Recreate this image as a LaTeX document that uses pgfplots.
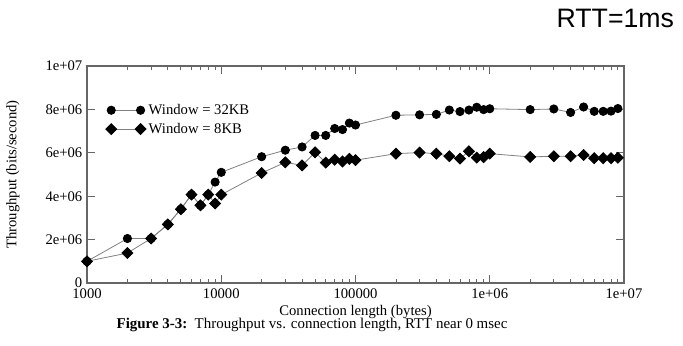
\documentclass[border=0pt]{standalone}
\usepackage{pgfplots}
\pgfplotsset{compat=1.18}
\usepackage{fontspec}
\setmainfont{Liberation Serif}
\newfontfamily\arialfont{Liberation Sans}
\pgfplotstableread{
x y
1000 1.0e6
2000 2.05e6
3000 2.05e6
4000 2.7e6
5000 3.4e6
6000 4.07e6
7000 3.58e6
8000 4.07e6
9000 4.65e6
10000 5.1e6
20000 5.82e6
30000 6.12e6
40000 6.27e6
50000 6.8e6
60000 6.8e6
70000 7.12e6
80000 7.07e6
90000 7.37e6
100000 7.28e6
200000 7.73e6
300000 7.75e6
400000 7.77e6
500000 7.97e6
600000 7.9e6
700000 7.97e6
800000 8.1e6
900000 7.99e6
1000000 8.03e6
2000000 7.99e6
3000000 8.02e6
4000000 7.86e6
5000000 8.11e6
6000000 7.91e6
7000000 7.91e6
8000000 7.92e6
9000000 8.04e6
}\wsmall
\pgfplotstableread{
x y
1000 1.0e6
2000 1.38e6
3000 2.05e6
4000 2.7e6
5000 3.4e6
6000 4.07e6
7000 3.58e6
8000 4.07e6
9000 3.66e6
10000 4.07e6
20000 5.07e6
30000 5.56e6
40000 5.42e6
50000 6.02e6
60000 5.55e6
70000 5.68e6
80000 5.6e6
90000 5.72e6
100000 5.66e6
200000 5.96e6
300000 6.01e6
400000 5.96e6
500000 5.84e6
600000 5.73e6
700000 6.07e6
800000 5.78e6
900000 5.8e6
1000000 5.96e6
2000000 5.81e6
3000000 5.84e6
4000000 5.84e6
5000000 5.9e6
6000000 5.75e6
7000000 5.75e6
8000000 5.75e6
9000000 5.77e6
}\wlarge
\begin{document}
\begin{tikzpicture}
\useasboundingbox (0,0) rectangle (512.25pt,259.5pt);
\begin{axis}[
  at={(65.25pt,47.25pt)}, anchor=south west,
  scale only axis, width=402.75pt, height=162.75pt,
  xmode=log, xmin=1000, xmax=1e7,
  ymin=0, ymax=1e7,
  xtick={1000,10000,100000,1000000,10000000},
  xticklabels={1000,10000,100000,1e+06,1e+07},
  ytick={0,2e6,4e6,6e6,8e6,1e7},
  yticklabels={0,2e+06,4e+06,6e+06,8e+06,1e+07},
  scaled y ticks=false,
  axis line style={black!60, line width=0.8pt},
  every tick/.style={black!60, line width=0.6pt},
  major tick length=6pt, minor tick length=3pt,
  tick label style={font=\fontsize{11}{12}\selectfont},
  xticklabel style={yshift=-1pt},
  /pgf/number format/assume math mode=true,
  xlabel={Connection length (bytes)},
  ylabel={Throughput (bits/second)},
  label style={font=\fontsize{11}{12}\selectfont},
  xlabel style={at={(axis description cs:0.5,-0.134)}, anchor=center},
  ylabel style={at={(axis description cs:-0.138,0.5)}, anchor=center},
  legend style={at={(axis description cs:0.027,0.85)}, anchor=north west, draw=none, fill=none,
    font=\fontsize{11}{12}\selectfont, row sep=1pt},
  legend cell align=left,
  legend image code/.code={\draw[#1] plot coordinates {(-4pt,0pt) (18pt,0pt)};},
]
\addplot[color=black!50, line width=0.6pt, mark=*, mark size=3.1pt, mark options={fill=black, draw=black}] table[x=x,y=y] {\wsmall};
\addlegendentry{\fontsize{11}{12}\selectfont Window = 32KB}
\addplot[color=black!50, line width=0.6pt, mark=square*, mark size=2.9pt, mark options={fill=black, draw=black, rotate=45}] table[x=x,y=y] {\wlarge};
\addlegendentry{\fontsize{11}{12}\selectfont Window = 8KB}
\end{axis}
\node[anchor=base east, font=\arialfont\fontsize{20}{24}\selectfont] at (509pt,238.5pt) {RTT=1ms};
\node[anchor=center, font=\fontsize{11.2}{12}\selectfont] at (234pt,15.5pt) {\textbf{Figure 3-3:}\ \ Throughput vs. connection length, RTT near 0 msec};
\end{tikzpicture}
\end{document}
